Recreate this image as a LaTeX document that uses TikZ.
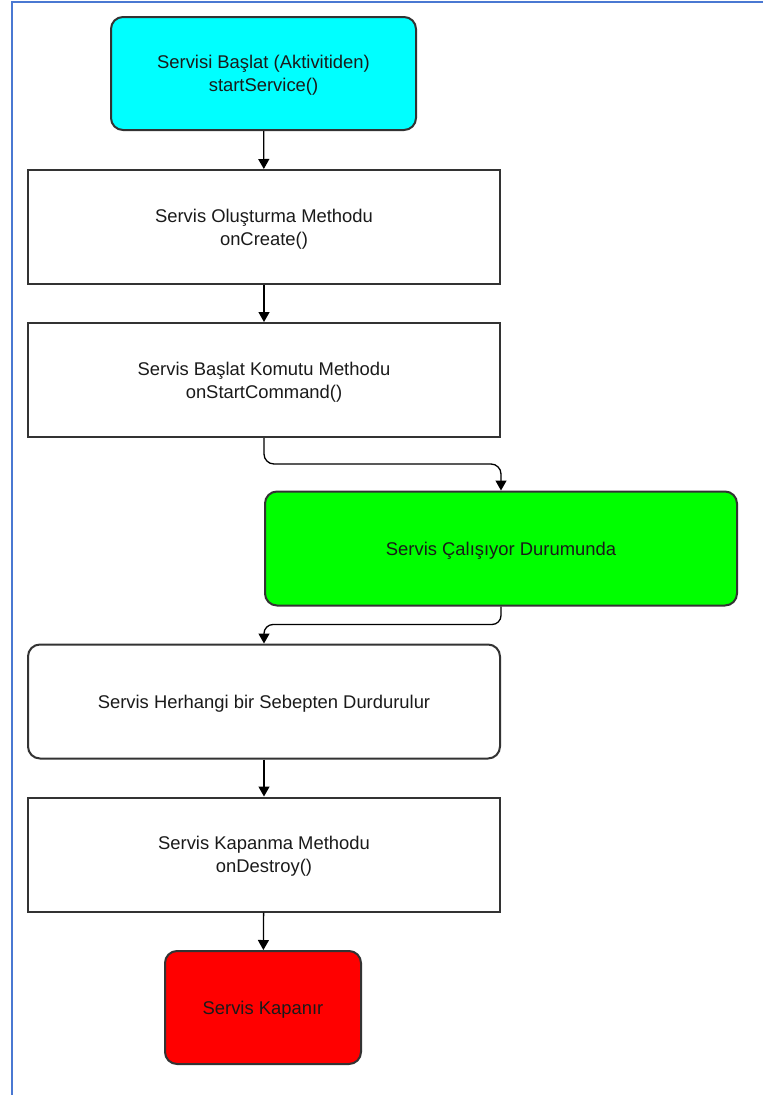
\documentclass[tikz,border=0pt]{standalone}
\usepackage{fontspec}
\setmainfont{Liberation Sans}
\usetikzlibrary{arrows.meta}
\definecolor{frameblue}{HTML}{4A78D2}
\definecolor{edge}{HTML}{333333}
\definecolor{ink}{HTML}{1A1A1A}
\definecolor{startfill}{HTML}{00FFFF}
\definecolor{runfill}{HTML}{00FF00}
\definecolor{endfill}{HTML}{FF0000}
\begin{document}
\begin{tikzpicture}[x=1pt,y=-1pt,
  box/.style={draw=edge, line width=2pt, inner sep=0pt, align=center,
    text=ink, font=\fontsize{18.4}{23}\selectfont, text depth=-1pt},
  roundbox/.style={box, rounded corners=12pt},
  wide/.style={minimum width=472pt, minimum height=114pt},
  flow/.style={draw=black, line width=1.3pt,
    -{Triangle[width=11pt,length=10pt]}}]
\useasboundingbox (0,0) rectangle (763,1095);
% outer frame
\draw[frameblue, line width=2pt] (11.5,1095) -- (11.5,1.5) -- (763,1.5);

% process steps
\node[roundbox, fill=startfill, minimum width=305pt, minimum height=113pt]
  (start) at (263.5,73.5) {Servisi Başlat (Aktivitiden)\\startService()};
\node[box, wide] (create) at (264,227) {Servis Oluşturma Methodu\\onCreate()};
\node[box, wide] (command) at (264,380) {Servis Başlat Komutu Methodu\\onStartCommand()};
\node[roundbox, fill=runfill, wide] (running) at (501,548.5) {Servis Çalışıyor Durumunda};
\node[roundbox, wide] (stopped) at (264,701.5) {Servis Herhangi bir Sebepten Durdurulur};
\node[box, wide] (destroy) at (264,854.5) {Servis Kapanma Methodu\\onDestroy()};
\node[roundbox, fill=endfill, minimum width=196pt, minimum height=113pt]
  (closed) at (263,1007.5) {Servis Kapanır};

% connectors
\draw[flow] (start) -- (create);
\draw[flow] (create) -- (command);
\draw[flow, rounded corners=10pt] (command.south) -- ++(0,26) -| (running.north);
\draw[flow, rounded corners=9pt] (running.south) -- ++(0,18) -| (stopped.north);
\draw[flow] (stopped) -- (destroy);
\draw[flow] (destroy) -- (closed);
\end{tikzpicture}
\end{document}
